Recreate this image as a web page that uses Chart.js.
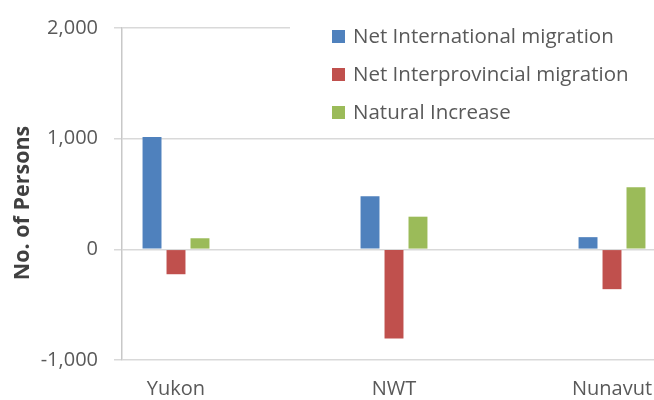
<!DOCTYPE html>
<html>
<head>
<meta charset="utf-8">
<script src="https://cdn.jsdelivr.net/npm/chart.js@4/dist/chart.umd.min.js"></script>
<style>
  html, body { margin: 0; padding: 0; background: #fff; }
  #wrap { width: 654px; height: 400px; position: relative; }
</style>
</head>
<body>
<div id="wrap"><canvas id="chart"></canvas></div>
<script>
// Territories on the x axis (placed at 0, 1, 2 on a linear scale)
const regions = ['Yukon', 'NWT', 'Nunavut'];
const regionPos = [0, 1, 2];

// Components of population growth, no. of persons
const netInternational = [1015, 480, 110];
const netInterprovincial = [-225, -805, -360];
const naturalIncrease = [100, 295, 560];

const seriesNames = ['Net International migration', 'Net Interprovincial migration', 'Natural Increase'];
const seriesColors = ['#4F81BD', '#C0504D', '#9BBB59'];

const yTicks = [-1000, 0, 1000, 2000];
const yTitle = 'No. of Persons';

const FONT = "'Open Sans', sans-serif";
const TEXT = '#595959';

function toPoints(values) {
    return values.map((v, i) => ({ x: regionPos[i], y: v }));
}

// Legend sits inside the plot area, top right, on a white box
const boxLegend = {
    id: 'boxLegend',
    afterDraw(chart) {
        const ctx = chart.ctx;
        ctx.save();
        ctx.fillStyle = '#ffffff';
        ctx.fillRect(290, 0, 364, 132);
        ctx.font = '20.5px ' + FONT;
        ctx.textBaseline = 'middle';
        ctx.textAlign = 'left';
        chart.data.datasets.forEach((ds, i) => {
            const cy = 36.5 + i * 38;
            ctx.fillStyle = ds.backgroundColor;
            ctx.fillRect(332, cy - 6.5, 13, 13);
            ctx.fillStyle = TEXT;
            ctx.fillText(ds.label, 353, cy + 1);
        });

        // y axis title, a bit below the middle of the plot like the original
        ctx.translate(23, 203);
        ctx.rotate(-Math.PI / 2);
        ctx.textAlign = 'center';
        ctx.font = 'bold 21.5px ' + FONT;
        ctx.fillStyle = '#404040';
        ctx.fillText(yTitle, 0, 0);
        ctx.restore();
    }
};

const datasets = [netInternational, netInterprovincial, naturalIncrease].map((vals, i) => ({
    label: seriesNames[i],
    data: toPoints(vals),
    backgroundColor: seriesColors[i],
    borderWidth: 0,
    categoryPercentage: 0.33,
    barPercentage: 0.79
}));

new Chart(document.getElementById('chart'), {
    type: 'bar',
    data: { datasets },
    options: {
        responsive: true,
        maintainAspectRatio: false,
        animation: false,
        layout: { padding: { top: 24, right: 0, bottom: 0, left: 0 } },
        plugins: {
            legend: { display: false },
            tooltip: { enabled: false }
        },
        scales: {
            x: {
                type: 'linear',
                offset: false,
                min: -54 / 218,
                max: 2 + 42 / 218,
                grid: { display: false, drawTicks: false },
                border: { display: false },
                afterBuildTicks: (scale) => {
                    scale.ticks = regionPos.map(v => ({ value: v }));
                },
                afterFit: (scale) => {
                    scale.height = 40;
                    scale.paddingLeft = 0;
                    scale.paddingRight = 0;
                },
                ticks: {
                    autoSkip: false,
                    maxRotation: 0,
                    padding: 17,
                    color: TEXT,
                    font: { family: FONT, size: 20 },
                    callback: (v) => regions[regionPos.indexOf(v)] ?? ''
                }
            },
            y: {
                min: -1000,
                max: 2000,
                afterBuildTicks: (scale) => {
                    scale.ticks = yTicks.map(v => ({ value: v }));
                },
                afterFit: (scale) => { scale.width = 122; },
                grid: {
                    color: '#d9d9d9',
                    lineWidth: 1.5,
                    tickLength: 8,
                    tickColor: '#d9d9d9'
                },
                border: { display: true, color: '#c8c8c8', width: 1.5 },
                ticks: {
                    padding: 16,
                    color: TEXT,
                    font: { family: FONT, size: 20 },
                    callback: (v) => v.toLocaleString('en-US')
                },
                title: { display: false }
            }
        }
    },
    plugins: [boxLegend]
});
</script>
</body>
</html>
